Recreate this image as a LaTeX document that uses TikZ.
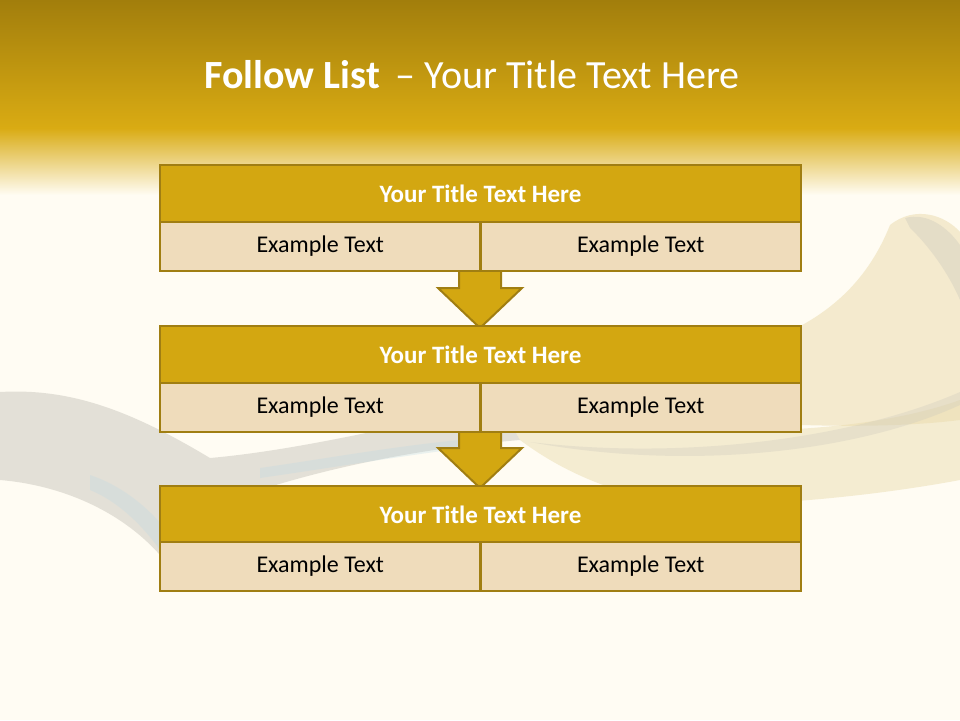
\documentclass[tikz,border=0pt]{standalone}
\usepackage{fontspec}
\setmainfont{Carlito}
\begin{document}
\begin{tikzpicture}[x=1pt,y=-1pt,
  titlebox/.style={draw=bordergold,line width=2.5pt,fill=titlegold,minimum width=641pt,minimum height=57pt,inner sep=0pt,font=\fontsize{25}{30}\selectfont\bfseries,text=white},
  cellbox/.style={draw=bordergold,line width=2.5pt,fill=cellbeige,minimum width=320.5pt,minimum height=49pt,inner sep=0pt,font=\fontsize{24}{29}\selectfont,text=black},
  downarrow/.style={draw=bordergold,line width=2pt,fill=titlegold,line join=miter}]
\definecolor{bgcream}{HTML}{FFFCF3}
\definecolor{topdark}{HTML}{A27E0C}
\definecolor{topgold}{HTML}{D9AB13}
\definecolor{titlegold}{HTML}{D3A711}
\definecolor{bordergold}{HTML}{A07E12}
\definecolor{cellbeige}{HTML}{EFDCBB}
\definecolor{ribbon}{HTML}{C9C6BC}
\definecolor{ribbonblue}{HTML}{BCD9E4}
\definecolor{ribbonyel}{HTML}{EBDDB0}
\useasboundingbox (0,0) rectangle (960,720);
% background
\fill[bgcream] (0,0) rectangle (960,720);
\shade[top color=topdark,bottom color=topgold] (0,0) rectangle (960,128);
\shade[top color=topgold,bottom color=bgcream] (0,128) rectangle (960,195);
% faint ribbons (left, grey)
\fill[ribbon,opacity=0.5] (0,392) .. controls (70,388) and (130,410) .. (210,458)
  .. controls (300,450) and (400,425) .. (500,405) -- (520,440)
  .. controls (400,450) and (300,475) .. (230,500)
  .. controls (190,520) and (170,540) .. (160,555)
  .. controls (120,510) and (60,485) .. (0,480) -- cycle;
\fill[ribbonblue,opacity=0.3] (90,475) .. controls (120,485) and (145,505) .. (162,525)
  -- (160,550) .. controls (140,522) and (115,500) .. (90,490) -- cycle;
\fill[ribbonblue,opacity=0.3] (260,468) .. controls (330,458) and (400,445) .. (480,438)
  -- (480,446) .. controls (400,456) and (330,468) .. (260,478) -- cycle;
% right ribbons (yellowish)
\fill[ribbonyel,opacity=0.55] (700,360) .. controls (800,340) and (860,300) .. (890,225)
  .. controls (915,205) and (945,215) .. (960,232) -- (960,420)
  .. controls (880,430) and (780,425) .. (700,420) -- cycle;
\fill[ribbon,opacity=0.35] (905,218) .. controls (928,212) and (948,228) .. (960,245)
  -- (960,300) .. controls (948,272) and (928,245) .. (910,228) -- cycle;
\fill[ribbonyel,opacity=0.5] (500,405) .. controls (650,440) and (850,440) .. (960,400)
  -- (960,480) .. controls (880,495) and (780,505) .. (700,505)
  .. controls (620,500) and (560,470) .. (520,440) -- cycle;
\fill[ribbon,opacity=0.3] (530,442) .. controls (680,460) and (850,440) .. (960,392)
  -- (960,405) .. controls (850,455) and (680,470) .. (530,442) -- cycle;
% title
\node[font=\fontsize{40}{48}\selectfont,text=white,anchor=center] (title) at (472,75)
  {\textbf{Follow List} \,– Your Title Text Here};
% arrows (drawn first, boxes on top)
\draw[downarrow] (459,262) -- (501,262) -- (501,288) -- (522,288) -- (480,328) -- (438,288) -- (459,288) -- cycle;
\draw[downarrow] (459,423) -- (501,423) -- (501,448) -- (522,448) -- (480,488) -- (438,448) -- (459,448) -- cycle;
% box 1
\node[titlebox] (t1) at (480.5,193.5) {Your Title Text Here};
\node[cellbox] (a1) at (320.25,246.5) {Example Text};
\node[cellbox] (b1) at (640.75,246.5) {Example Text};
% box 2
\node[titlebox] (t2) at (480.5,354.5) {Your Title Text Here};
\node[cellbox] (a2) at (320.25,407.5) {Example Text};
\node[cellbox] (b2) at (640.75,407.5) {Example Text};
% box 3
\node[titlebox] (t3) at (480.5,514.5) {Your Title Text Here};
\node[cellbox] (a3) at (320.25,566.5) {Example Text};
\node[cellbox] (b3) at (640.75,566.5) {Example Text};
\end{tikzpicture}
\end{document}
